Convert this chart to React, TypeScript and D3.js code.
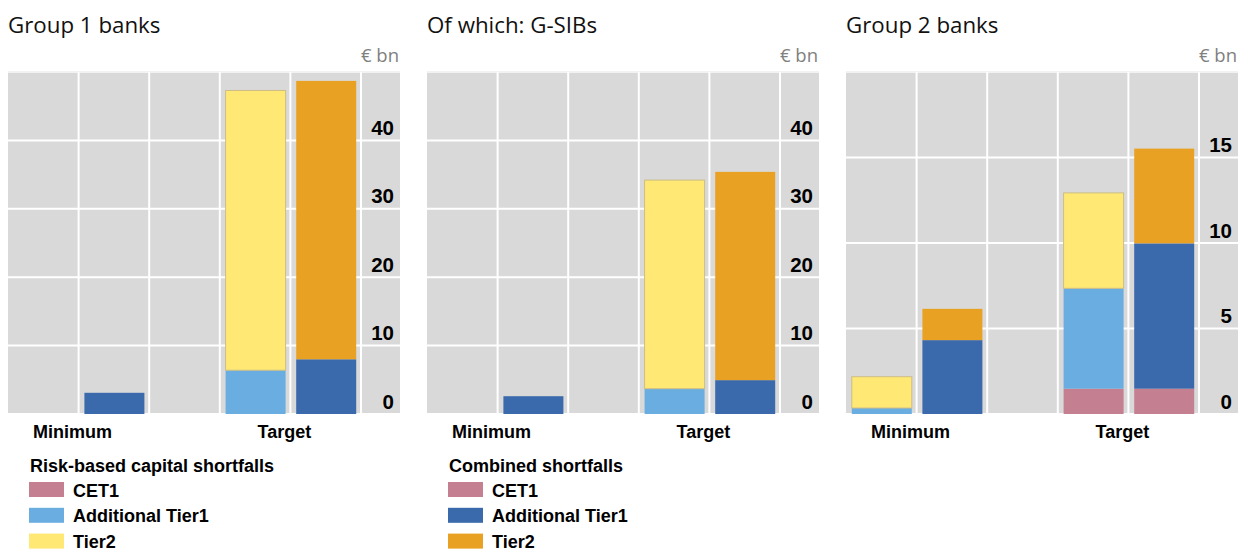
import React from "react";
import * as d3 from "d3";

const panelTitles = ["Group 1 banks", "Of which: G-SIBs", "Group 2 banks"];
const categories = ["Minimum", "Target"];
const components = ["CET1", "Additional Tier1", "Tier2"];
const yMax = [50, 50, 20];
const yTicks = [
  [0, 10, 20, 30, 40],
  [0, 10, 20, 30, 40],
  [0, 5, 10, 15],
];
// risk-based capital shortfalls: [panel][category][CET1, AT1, Tier2]
const riskBased = [
  [[0, 0, 0], [0, 6.4, 40.9]],
  [[0, 0, 0], [0, 3.7, 30.5]],
  [[0, 0.35, 1.83], [1.48, 5.87, 5.58]],
];
// combined shortfalls: [panel][category][CET1, AT1, Tier2]
const combined = [
  [[0, 3.1, 0], [0, 8.0, 40.7]],
  [[0, 2.6, 0], [0, 4.95, 30.45]],
  [[0, 4.32, 1.83], [1.48, 8.5, 5.54]],
];
const legendTitles = ["Risk-based capital shortfalls", "Combined shortfalls"];
const riskColors = ["#c48090", "#6aade0", "#ffe974"];
const combColors = ["#c48090", "#3a6aac", "#e8a123"];

const W = 1239;
const H = 550;
const panelX0 = 8;
const panelStep = 419;
const plotW = 392;
const slotW = 70.6;
const top = 72;
const bottom = 414;
const sansB = "'Liberation Sans', Arial, sans-serif";
const titleFont = "'Open Sans', 'Noto Sans', sans-serif";

const slots = ["min-risk", "min-comb", "gap1", "tgt-risk", "tgt-comb", "axis"];

function Panel({ idx }: { idx: number }) {
  const x0 = panelX0 + idx * panelStep;
  const x = d3
    .scaleBand<string>()
    .domain(slots)
    .range([x0, x0 + slotW * slots.length])
    .paddingInner(0)
    .paddingOuter(0);
  const y = d3.scaleLinear().domain([0, yMax[idx]]).range([bottom, top]);
  const barPad = 5;
  const bw = x.bandwidth() - 2 * barPad - 0.6;
  const stack = d3.stack<number[]>().keys(["0", "1", "2"]).value((d, k) => d[+k]);

  const bars: { slot: string; data: number[]; colors: string[] }[] = [];
  categories.forEach((c, ci) => {
    const pref = ci === 0 ? "min" : "tgt";
    bars.push({ slot: pref + "-risk", data: riskBased[idx][ci], colors: riskColors });
    bars.push({ slot: pref + "-comb", data: combined[idx][ci], colors: combColors });
  });

  const right = x0 + plotW;
  return (
    <g>
      <text x={x0} y={33} fontFamily={titleFont} fontSize={22.3} fill="#111">
        {panelTitles[idx]}
      </text>
      <text x={right - 1} y={62} fontFamily={titleFont} fontSize={18.5} fill="#7f7f7f" textAnchor="end">
        € bn
      </text>
      <rect x={x0} y={top} width={plotW} height={bottom - top} fill="#d9d9d9" />
      <line x1={x0} x2={right} y1={top} y2={top} stroke="#f2f2f2" strokeWidth={2} />
      {yTicks[idx].map((t) => (
        <line key={"h" + t} x1={x0} x2={right} y1={y(t)} y2={y(t)} stroke="#ffffff" strokeWidth={2} />
      ))}
      {slots.slice(1).map((s) => (
        <line key={"v" + s} x1={x(s)!} x2={x(s)!} y1={top} y2={bottom} stroke="#ffffff" strokeWidth={2} />
      ))}
      {bars.map((b) => {
        const series = stack([b.data]);
        return (
          <g key={b.slot}>
            {series.map((s, si) => {
              const seg = s[0];
              const h = y(seg[0]) - y(seg[1]);
              if (h <= 0.01) return null;
              return (
                <rect
                  key={si}
                  x={x(b.slot)! + barPad + 0.8}
                  y={y(seg[1])}
                  width={bw}
                  height={h}
                  fill={b.colors[si]}
                  stroke={si === 2 && b.colors === riskColors ? "#cdbd86" : "none"}
                  strokeWidth={si === 2 && b.colors === riskColors ? 1 : 0}
                />
              );
            })}
          </g>
        );
      })}
      {yTicks[idx].map((t) => (
        <text
          key={"t" + t}
          x={right - 6}
          y={y(t) - 5.5}
          textAnchor="end"
          fontFamily={sansB}
          fontWeight="bold"
          fontSize={20.5}
          fill="#000"
        >
          {t}
        </text>
      ))}
      {categories.map((c, ci) => {
        const pref = ci === 0 ? "min" : "tgt";
        const cx = x(pref + "-comb")! - 6;
        return (
          <text
            key={c}
            x={cx}
            y={438}
            textAnchor="middle"
            fontFamily={sansB}
            fontWeight="bold"
            fontSize={18}
            fill="#000"
          >
            {c}
          </text>
        );
      })}
    </g>
  );
}

function Legend({ idx }: { idx: number }) {
  const lx = 29 + idx * panelStep;
  const colors = idx === 0 ? riskColors : combColors;
  const step = 25.8;
  return (
    <g>
      <text x={lx + 1} y={472} fontFamily={sansB} fontWeight="bold" fontSize={18} fill="#000">
        {legendTitles[idx]}
      </text>
      {components.map((c, i) => (
        <g key={c}>
          <rect x={lx} y={482 + i * step} width={35} height={15} fill={colors[i]} />
          <text x={lx + 44} y={496.5 + i * step} fontFamily={sansB} fontWeight="bold" fontSize={18} fill="#000">
            {c}
          </text>
        </g>
      ))}
    </g>
  );
}

export default function App() {
  return (
    <svg
      width={W}
      height={H}
      style={{ position: "absolute", left: 0, top: 0, background: "#fff" }}
    >
      {panelTitles.map((_, i) => (
        <Panel key={i} idx={i} />
      ))}
      {legendTitles.map((_, i) => (
        <Legend key={i} idx={i} />
      ))}
    </svg>
  );
}
